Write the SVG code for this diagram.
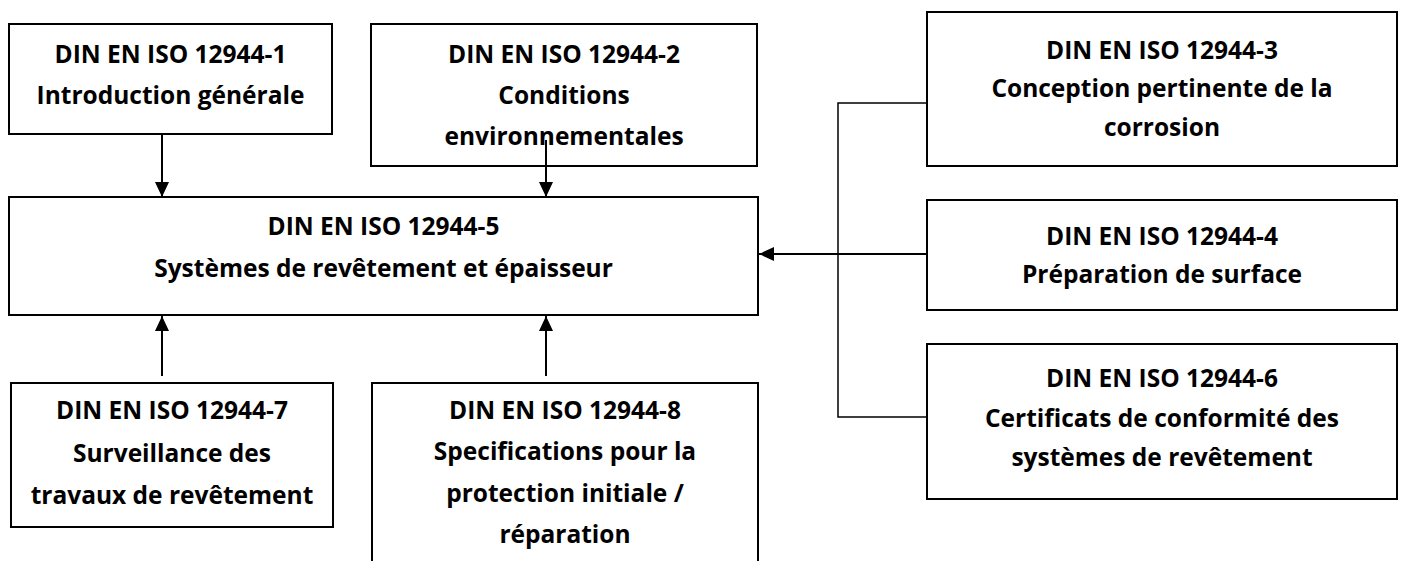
<svg xmlns="http://www.w3.org/2000/svg" width="1402" height="561" viewBox="0 0 1402 561">
<style>
.box{fill:#fff;stroke:#000;stroke-width:2}
.t{font-family:"Open Sans",Lato,"Liberation Sans",sans-serif;font-weight:bold;font-size:24.5px;fill:#000;text-anchor:middle}
.c{fill:none;stroke:#000;stroke-width:2}
.b{fill:none;stroke:#000;stroke-width:1.5}
</style>
<defs>
<marker id="ah" markerUnits="userSpaceOnUse" markerWidth="15" markerHeight="14" refX="15" refY="7" orient="auto">
<path d="M0,0 L15,7 L0,14 z" fill="#000"/>
</marker>
</defs>
<rect width="1402" height="561" fill="#fff"/>
<g id="n1">
<rect class="box" x="9" y="24" width="323" height="110"/>
<text class="t" x="170.5" y="63">DIN EN ISO 12944-1</text>
<text class="t" x="170.5" y="104">Introduction générale</text>
</g>
<g id="n2">
<rect class="box" x="371" y="24" width="386" height="142"/>
<text class="t" x="564" y="63">DIN EN ISO 12944-2</text>
<text class="t" x="564" y="104">Conditions</text>
<text class="t" x="564" y="145">environnementales</text>
</g>
<g id="n3">
<rect class="box" x="927" y="12" width="470" height="154"/>
<text class="t" x="1162" y="59">DIN EN ISO 12944-3</text>
<text class="t" x="1162" y="97">Conception pertinente de la</text>
<text class="t" x="1162" y="136">corrosion</text>
</g>
<g id="n5">
<rect class="box" x="9" y="197" width="749" height="118"/>
<text class="t" x="383.5" y="235">DIN EN ISO 12944-5</text>
<text class="t" x="383.5" y="277">Systèmes de revêtement et épaisseur</text>
</g>
<g id="n4">
<rect class="box" x="927" y="200" width="470" height="110"/>
<text class="t" x="1162" y="245">DIN EN ISO 12944-4</text>
<text class="t" x="1162" y="283">Préparation de surface</text>
</g>
<g id="n6">
<rect class="box" x="927" y="344" width="470" height="155"/>
<text class="t" x="1162" y="387">DIN EN ISO 12944-6</text>
<text class="t" x="1162" y="427">Certificats de conformité des</text>
<text class="t" x="1162" y="466">systèmes de revêtement</text>
</g>
<g id="n7">
<rect class="box" x="11" y="383" width="322" height="144"/>
<text class="t" x="172" y="419">DIN EN ISO 12944-7</text>
<text class="t" x="172" y="462">Surveillance des</text>
<text class="t" x="172" y="504">travaux de revêtement</text>
</g>
<g id="n8">
<rect class="box" x="372" y="383" width="386" height="190"/>
<text class="t" x="565" y="419">DIN EN ISO 12944-8</text>
<text class="t" x="565" y="460">Specifications pour la</text>
<text class="t" x="565" y="502">protection initiale /</text>
<text class="t" x="565" y="543">réparation</text>
</g>
<g id="connectors">
<line class="c" x1="162" y1="134" x2="162" y2="197" marker-end="url(#ah)"/>
<line class="c" x1="546" y1="140" x2="546" y2="197" marker-end="url(#ah)"/>
<line class="c" x1="162" y1="376" x2="162" y2="316" marker-end="url(#ah)"/>
<line class="c" x1="546" y1="376" x2="546" y2="316" marker-end="url(#ah)"/>
<line class="c" x1="927" y1="254" x2="759" y2="254" marker-end="url(#ah)"/>
<polyline class="b" points="927,103 838,103 838,417 927,417"/>
</g>
</svg>
